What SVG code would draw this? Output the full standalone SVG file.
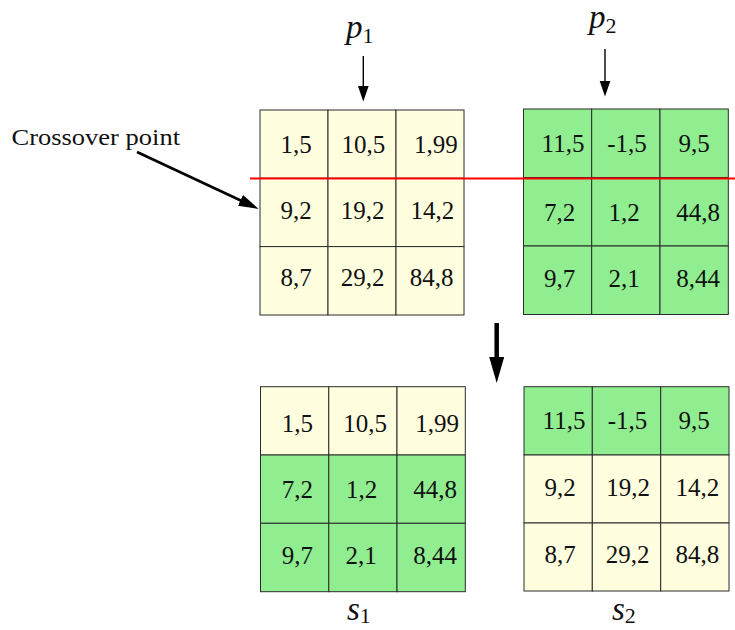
<svg xmlns="http://www.w3.org/2000/svg" width="735" height="630" viewBox="0 0 735 630">
<defs>
<style>
.y{fill:#FFFFE0;stroke:#2b2b2b;stroke-width:1}
.g{fill:#90EE90;stroke:#2b2b2b;stroke-width:1}
.t{font-family:"Liberation Serif","DejaVu Serif",serif;font-size:25px;fill:#111;text-anchor:middle}
.m{font-family:"Liberation Serif","DejaVu Serif",serif;font-style:italic;font-size:33px;fill:#111}
.sub{font-family:"Liberation Serif","DejaVu Serif",serif;font-style:normal;font-size:22px}
.lbl{font-family:"Liberation Serif","DejaVu Serif",serif;font-size:23px;fill:#111}
.thin{stroke:#000;stroke-width:1.4;fill:none}
</style>
<marker id="h1" markerUnits="userSpaceOnUse" markerWidth="16" markerHeight="12" viewBox="0 0 16 12" refX="6" refY="6" orient="auto"><path d="M0,0.5 L16,6 L0,11.5 z" fill="#000"/></marker>
<marker id="h2" markerUnits="userSpaceOnUse" markerWidth="20" markerHeight="13" viewBox="0 0 20 13" refX="8" refY="6.5" orient="auto"><path d="M0,0.5 L20,6.5 L0,12.5 z" fill="#000"/></marker>
<marker id="h3" markerUnits="userSpaceOnUse" markerWidth="26" markerHeight="16" viewBox="0 0 26 16" refX="10" refY="8" orient="auto"><path d="M0,0.5 L26,8 L0,15.5 z" fill="#000"/></marker>
</defs>

<g id="p1">
<rect class="y" x="260" y="110" width="68" height="68.3"/>
<rect class="y" x="328" y="110" width="68" height="68.3"/>
<rect class="y" x="396" y="110" width="68" height="68.3"/>
<rect class="y" x="260" y="178.3" width="68" height="68.3"/>
<rect class="y" x="328" y="178.3" width="68" height="68.3"/>
<rect class="y" x="396" y="178.3" width="68" height="68.3"/>
<rect class="y" x="260" y="246.6" width="68" height="68.4"/>
<rect class="y" x="328" y="246.6" width="68" height="68.4"/>
<rect class="y" x="396" y="246.6" width="68" height="68.4"/>
<text class="t" x="296" y="153">1,5</text>
<text class="t" x="363.3" y="153">10,5</text>
<text class="t" x="435.8" y="153">1,99</text>
<text class="t" x="296" y="219">9,2</text>
<text class="t" x="362.7" y="219">19,2</text>
<text class="t" x="432.3" y="219">14,2</text>
<text class="t" x="296" y="286">8,7</text>
<text class="t" x="362.7" y="286">29,2</text>
<text class="t" x="431.7" y="286">84,8</text>
</g>

<g id="p2">
<rect class="g" x="523.5" y="109" width="68.2" height="68.5"/>
<rect class="g" x="591.7" y="109" width="68.3" height="68.5"/>
<rect class="g" x="660" y="109" width="68.3" height="68.5"/>
<rect class="g" x="523.5" y="177.5" width="68.2" height="68.5"/>
<rect class="g" x="591.7" y="177.5" width="68.3" height="68.5"/>
<rect class="g" x="660" y="177.5" width="68.3" height="68.5"/>
<rect class="g" x="523.5" y="246" width="68.2" height="68.5"/>
<rect class="g" x="591.7" y="246" width="68.3" height="68.5"/>
<rect class="g" x="660" y="246" width="68.3" height="68.5"/>
<text class="t" x="563" y="152">11,5</text>
<text class="t" x="627" y="152">-1,5</text>
<text class="t" x="694" y="152">9,5</text>
<text class="t" x="559.5" y="221">7,2</text>
<text class="t" x="624" y="221">1,2</text>
<text class="t" x="698" y="221">44,8</text>
<text class="t" x="559.5" y="287">9,7</text>
<text class="t" x="624" y="287">2,1</text>
<text class="t" x="698" y="287">8,44</text>
</g>

<g id="s1">
<rect class="y" x="260.5" y="386.7" width="68.3" height="68.3"/>
<rect class="y" x="328.8" y="386.7" width="68.2" height="68.3"/>
<rect class="y" x="397" y="386.7" width="68.3" height="68.3"/>
<rect class="g" x="260.5" y="455" width="68.3" height="68.3"/>
<rect class="g" x="328.8" y="455" width="68.2" height="68.3"/>
<rect class="g" x="397" y="455" width="68.3" height="68.3"/>
<rect class="g" x="260.5" y="523.3" width="68.3" height="68.4"/>
<rect class="g" x="328.8" y="523.3" width="68.2" height="68.4"/>
<rect class="g" x="397" y="523.3" width="68.3" height="68.4"/>
<text class="t" x="297.3" y="431.7">1,5</text>
<text class="t" x="365" y="431.7">10,5</text>
<text class="t" x="437" y="431.7">1,99</text>
<text class="t" x="297.3" y="497.7">7,2</text>
<text class="t" x="361.7" y="497.7">1,2</text>
<text class="t" x="435" y="497.7">44,8</text>
<text class="t" x="297.3" y="564.3">9,7</text>
<text class="t" x="361" y="564.3">2,1</text>
<text class="t" x="435" y="564.3">8,44</text>
<text class="m" x="347" y="620">s<tspan class="sub" dy="3">1</tspan></text>
</g>

<g id="s2">
<rect class="g" x="524" y="386.7" width="68.3" height="68.3"/>
<rect class="g" x="592.3" y="386.7" width="68.4" height="68.3"/>
<rect class="g" x="660.7" y="386.7" width="68.3" height="68.3"/>
<rect class="y" x="524" y="455" width="68.3" height="68"/>
<rect class="y" x="592.3" y="455" width="68.4" height="68"/>
<rect class="y" x="660.7" y="455" width="68.3" height="68"/>
<rect class="y" x="524" y="523" width="68.3" height="68"/>
<rect class="y" x="592.3" y="523" width="68.4" height="68"/>
<rect class="y" x="660.7" y="523" width="68.3" height="68"/>
<text class="t" x="564" y="429.3">11,5</text>
<text class="t" x="627.5" y="429.3">-1,5</text>
<text class="t" x="694" y="429.3">9,5</text>
<text class="t" x="560" y="496">9,2</text>
<text class="t" x="628" y="496">19,2</text>
<text class="t" x="697.3" y="496">14,2</text>
<text class="t" x="560" y="562.7">8,7</text>
<text class="t" x="627.5" y="562.7">29,2</text>
<text class="t" x="697.3" y="562.7">84,8</text>
<text class="m" x="612" y="620">s<tspan class="sub" dy="3">2</tspan></text>
</g>

<g id="labels">
<text class="m" x="346" y="38">p<tspan class="sub" dy="5">1</tspan></text>
<text class="m" x="589" y="28">p<tspan class="sub" dy="5">2</tspan></text>
<text class="lbl" x="11.5" y="145" textLength="168.5" lengthAdjust="spacingAndGlyphs">Crossover point</text>
</g>

<g id="connectors">
<line x1="250" y1="178.5" x2="735" y2="178.5" stroke="#FF0000" stroke-width="2.2"/>
<line class="thin" x1="363.3" y1="56" x2="363.3" y2="91.5" marker-end="url(#h1)"/>
<line class="thin" x1="605" y1="49" x2="605" y2="86.5" marker-end="url(#h1)"/>
<line x1="496.7" y1="323" x2="496.7" y2="367" stroke="#000" stroke-width="4.5" marker-end="url(#h3)"/>
<line x1="137" y1="152" x2="247.7" y2="203.8" stroke="#000" stroke-width="2.6" marker-end="url(#h2)"/>
</g>
</svg>
